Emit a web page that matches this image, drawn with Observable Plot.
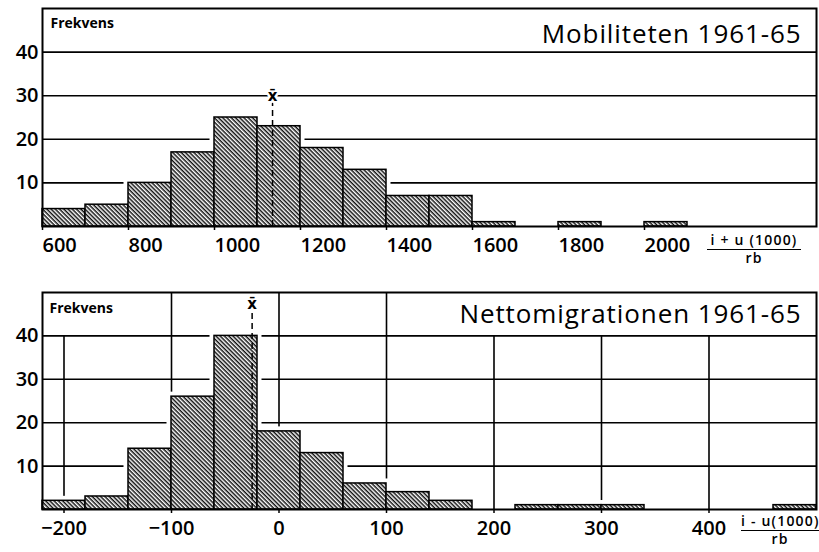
<!DOCTYPE html>
<html><head><meta charset="utf-8">
<script src="https://cdn.jsdelivr.net/npm/d3@7"></script>
<script src="https://cdn.jsdelivr.net/npm/@observablehq/plot@0.6"></script>
<style>
body{margin:0;background:#fff;width:819px;height:552px;overflow:hidden;font-family:"Open Sans",sans-serif;}
.panel{position:relative;width:819px;height:276px;}
.panel svg{display:block;}
.frac{position:absolute;text-align:center;font-weight:600;font-size:14px;line-height:14px;letter-spacing:1.2px;color:#000;}
.frac .num{border-bottom:1.6px solid #000;padding:0 0 2px 0;white-space:nowrap;}
.frac .den{padding-top:1px;}
g[aria-label="x-axis tick label"] text, g[aria-label="y-axis tick label"] text{font-weight:600;}
.ttl text{letter-spacing:0.9px;}
</style></head><body>
<div id="top" class="panel"></div>
<div id="bot" class="panel"></div>
<script>
// ---- Data: Mobiliteten 1961-65 (bins of 100) ----
const mobLow   = [600, 700, 800, 900, 1000, 1100, 1200, 1300, 1400, 1500, 1600, 1800, 2000];
const mobHigh  = [700, 800, 900, 1000, 1100, 1200, 1300, 1400, 1500, 1600, 1700, 1900, 2100];
const mobCount = [4, 5, 10, 17, 25, 23, 18, 13, 7, 7, 1, 1, 1];
const mobMean  = 1135;
const mobXTicks = [600, 800, 1000, 1200, 1400, 1600, 1800, 2000];

// ---- Data: Nettomigrationen 1961-65 (bins of 40) ----
const netLow   = [-220, -180, -140, -100, -60, -20, 20, 60, 100, 140, 220, 260, 300, 460];
const netHigh  = [-180, -140, -100, -60, -20, 20, 60, 100, 140, 180, 260, 300, 340, 500];
const netCount = [2, 3, 14, 26, 40, 18, 13, 6, 4, 2, 1, 1, 1, 1];
const netMean  = -25;
const netXTicks = [-200, -100, 0, 100, 200, 300, 400];
const netGridFull = [-100, 0, 100];
const netGridLow  = [-200, 200, 300, 400];

const yTicks = [10, 20, 30, 40];

const mob = mobLow.map((d, i) => ({x1: d, x2: mobHigh[i], n: mobCount[i]}));
const net = netLow.map((d, i) => ({x1: d, x2: netHigh[i], n: netCount[i]}));

function addHatch(svg, id) {
  const ns = "http://www.w3.org/2000/svg";
  const defs = document.createElementNS(ns, "defs");
  defs.innerHTML = `<pattern id="${id}" patternUnits="userSpaceOnUse" width="3" height="3" patternTransform="rotate(45)"><rect width="3" height="3" fill="#fff"/><rect width="3" height="1.5" fill="#111"/></pattern>`;
  svg.insertBefore(defs, svg.firstChild);
}

const common = {
  width: 819, height: 276,
  marginLeft: 42, marginRight: 3,
  y: {domain: [0, 50]},
  style: {fontFamily: "Open Sans", background: "white", color: "black"}
};

const fmt = d3.format("d");
const axisOpts = (ticks, anchor) => Plot.axisX({ticks, tickFormat: d => fmt(d).replace("-", "\u2212"), tickSize: 4, tickPadding: 7, textAnchor: anchor, fontSize: 20, label: null, strokeWidth: 1.5});
const axisYOpts = () => Plot.axisY({ticks: yTicks, tickSize: 0, tickPadding: 4, fontSize: 20, label: null});

const topPlot = Plot.plot({
  ...common,
  marginTop: 8, marginBottom: 50,
  x: {domain: [600, 2400]},
  marks: [
    Plot.ruleY(yTicks, {strokeWidth: 1.6}),
    Plot.rectY(mob, {x1: "x1", x2: "x2", y: "n", fill: "white", stroke: "white", strokeWidth: 9}),
    Plot.rectY(mob, {x1: "x1", x2: "x2", y: "n", fill: "url(#hatchTop)", stroke: "black", strokeWidth: 1.5}),
    Plot.ruleX([mobMean], {y1: 0, y2: 28.5, strokeDasharray: "6,4", strokeWidth: 1.5}),
    Plot.text([mobMean], {x: d => d, y: 30, text: () => "x\u0304", fontFamily: "DejaVu Sans", fontSize: 15, fontWeight: "bold", stroke: "white", strokeWidth: 5, fill: "black"}),
    Plot.text(["Frekvens"], {frameAnchor: "top-left", lineAnchor: "middle", dx: 8, dy: 15, text: d => d, textAnchor: "start", fontSize: 14, fontWeight: "bold"}),
    Plot.text(["Mobiliteten 1961-65"], {frameAnchor: "top-right", lineAnchor: "middle", dx: -15, dy: 26, text: d => d, textAnchor: "end", fontSize: 26, fontWeight: 500, className: "ttl"}),
    Plot.frame({strokeWidth: 2}),
    axisOpts(mobXTicks, "start"),
    axisYOpts()
  ]
});
addHatch(topPlot, "hatchTop");
document.getElementById("top").appendChild(topPlot);

const botPlot = Plot.plot({
  ...common,
  marginTop: 16, marginBottom: 43,
  x: {domain: [-220, 500]},
  marks: [
    Plot.ruleY(yTicks, {strokeWidth: 1.6}),
    Plot.ruleX(netGridFull, {y1: 0, y2: 50, strokeWidth: 1.6}),
    Plot.ruleX(netGridLow, {y1: 0, y2: 40, strokeWidth: 1.6}),
    Plot.rectY(net, {x1: "x1", x2: "x2", y: "n", fill: "white", stroke: "white", strokeWidth: 9}),
    Plot.rectY(net, {x1: "x1", x2: "x2", y: "n", fill: "url(#hatchBot)", stroke: "black", strokeWidth: 1.5}),
    Plot.ruleX([netMean], {y1: 0, y2: 46, strokeDasharray: "6,4", strokeWidth: 1.5}),
    Plot.text([netMean], {x: d => d, y: 47.3, text: () => "x\u0304", fontFamily: "DejaVu Sans", fontSize: 15, fontWeight: "bold", stroke: "white", strokeWidth: 5, fill: "black"}),
    Plot.text(["Frekvens"], {frameAnchor: "top-left", lineAnchor: "middle", dx: 7, dy: 16, text: d => d, textAnchor: "start", fontSize: 14, fontWeight: "bold"}),
    Plot.text(["Nettomigrationen 1961-65"], {frameAnchor: "top-right", lineAnchor: "middle", dx: -15, dy: 22, text: d => d, textAnchor: "end", fontSize: 26, fontWeight: 500, className: "ttl"}),
    Plot.frame({strokeWidth: 2}),
    axisOpts(netXTicks, "middle"),
    axisYOpts()
  ]
});
addHatch(botPlot, "hatchBot");
document.getElementById("bot").appendChild(botPlot);

// axis unit labels (fractions)
function frac(parentId, num, left, top, width) {
  const d = document.createElement("div");
  d.className = "frac";
  d.style.left = left + "px"; d.style.top = top + "px"; d.style.width = width + "px";
  d.innerHTML = `<div class="num">${num}</div><div class="den">rb</div>`;
  document.getElementById(parentId).appendChild(d);
}
frac("top", "i + u (1000)", 707, 233, 94);
frac("bot", "i - u(1000)", 741, 238, 78);
</script>
</body></html>
